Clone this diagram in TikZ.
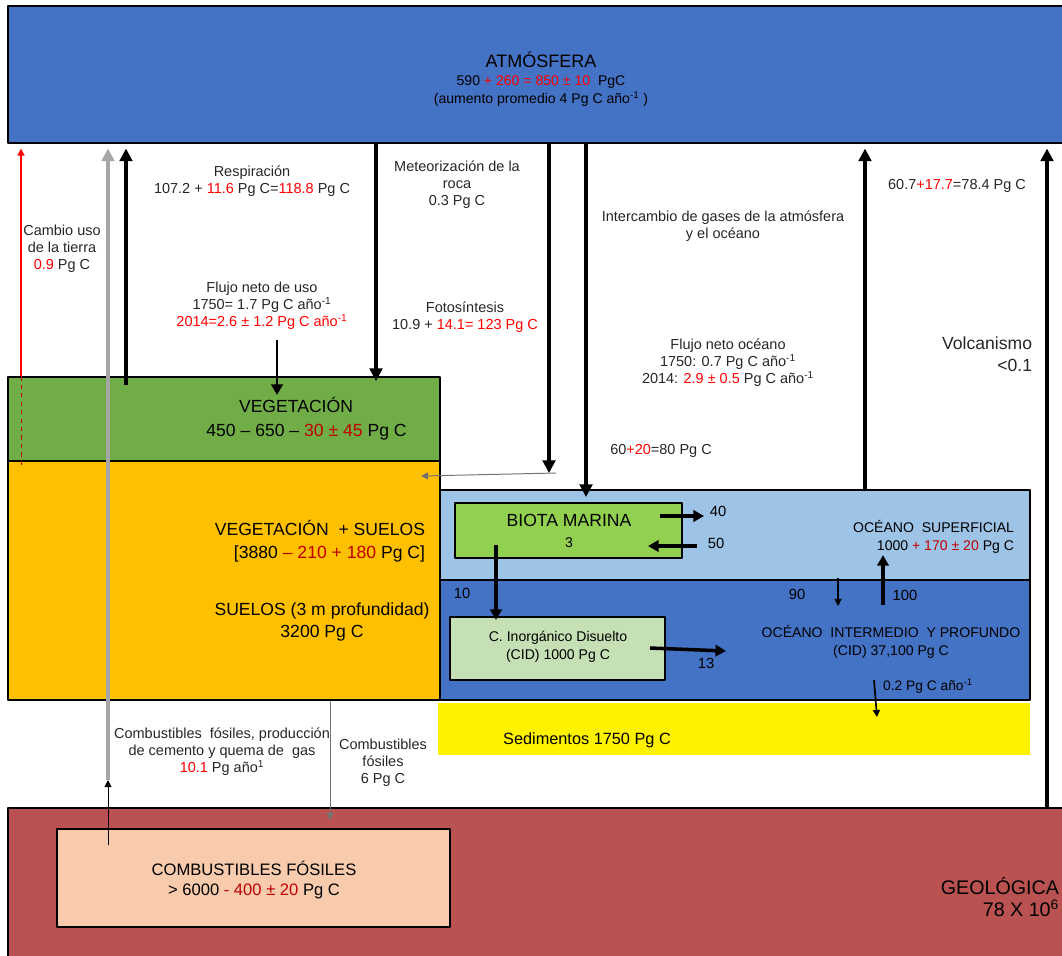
\documentclass[tikz,border=0pt]{standalone}
\usepackage{fontspec}
\setmainfont{Liberation Sans}
\usetikzlibrary{arrows.meta,fit}
\definecolor{atmazul}{RGB}{68,114,196}
\definecolor{vegverde}{RGB}{112,173,71}
\definecolor{suelo}{RGB}{255,192,0}
\definecolor{oceclaro}{RGB}{157,195,230}
\definecolor{biota}{RGB}{146,208,80}
\definecolor{cidverde}{RGB}{197,224,180}
\definecolor{geol}{RGB}{185,82,80}
\definecolor{fosil}{RGB}{248,203,173}
\definecolor{rojo}{RGB}{255,0,0}
\definecolor{rojoosc}{RGB}{192,0,0}
\newcommand{\rd}[1]{\textcolor{rojo}{#1}}
\newcommand{\dr}[1]{\textcolor{rojoosc}{#1}}
\newcommand{\anio}{año\textsuperscript{-1}}
\begin{document}
\begin{tikzpicture}[x=0.025cm,y=-0.025cm,line join=round,
  caja/.style={draw=black,line width=0.9pt,inner sep=0pt},
  lbl/.style={align=center,text=black!85,font=\fontsize{10.3}{12}\selectfont},
  reg/.style={align=center,font=\fontsize{12.5}{16}\selectfont},
  flujo/.style={line width=2.8pt,-{Triangle[length=9pt,width=9pt]}},
  flujom/.style={line width=2.5pt,-{Triangle[length=7.5pt,width=8pt]}},
  flujof/.style={line width=0.7pt,-{Triangle[length=5pt,width=5pt]}},
  alatm/.style={shorten >=3.5pt}]
\useasboundingbox (0,0) rectangle (1062,955);
% Reservorios
\node[caja,fill=atmazul,fit={(8,6)(1068,143)}] (atm) {};
\node[caja,fill=vegverde,fit={(8,377)(440,461)}] (veg) {};
\node[caja,fill=suelo,fit={(8,461)(440,700)}] (soil) {};
\node[caja,fill=oceclaro,fit={(440,490)(1030,580)}] (osup) {};
\node[caja,fill=atmazul,fit={(440,580)(1030,700)}] (odeep) {};
\node[caja,fill=biota,fit={(455,503)(682,558)}] (bio) {};
\node[caja,fill=cidverde,fit={(450,617)(665,680)}] (cid) {};
\node[inner sep=0pt,fill=yellow,fit={(438,703)(1030,755)}] (sed) {};
\node[caja,fill=geol,fit={(8,808)(1068,962)}] (geo) {};
\node[caja,fill=fosil,fit={(57,829)(450,927)}] (fuel) {};
% Posiciones de las flechas
\coordinate (xcu) at (21,0);
\coordinate (xgr) at (108,0);
\coordinate (xre) at (126,0);
\coordinate (xfo) at (376,0);
\coordinate (xme) at (549,0);
\coordinate (xin) at (586,0);
\coordinate (xoc) at (865,0);
\coordinate (xvo) at (1047,0);
\coordinate (xcf) at (330,0);
\coordinate (gpie) at (108,780);
\coordinate (fpie) at (108,845);
\coordinate (rpie) at (126,385);
\coordinate (fnA) at (277,340);
\coordinate (fnB) at (277,395);
\coordinate (fpunta) at (376,381);
\coordinate (mpunta) at (549,473);
\coordinate (gA) at (556,473);
\coordinate (gB) at (421,476);
\coordinate (ipunta) at (586,497);
\coordinate (cpunta) at (330,820);
\coordinate (bA) at (496,545);
\coordinate (bB) at (496,620);
\coordinate (c40A) at (660,516);
\coordinate (c40B) at (704,516);
\coordinate (c50A) at (697,546);
\coordinate (c50B) at (648,546);
\coordinate (c13A) at (650,648);
\coordinate (c13B) at (726,651);
\coordinate (c90A) at (838,578);
\coordinate (c90B) at (838,606);
\coordinate (c100A) at (883,605);
\coordinate (c100B) at (883,555);
\coordinate (csA) at (874,680);
\coordinate (csB) at (877,717);
% Flujos
\draw[flujof,rojo,line width=1pt,alatm] (veg.north -| xcu) -- (atm.south -| xcu);
\draw[rojoosc,dashed,line width=0.5pt] (veg.north -| xcu) -- ([yshift=-3pt]veg.south -| xcu);
\draw[flujo,black!35,alatm] (gpie) -- (atm.south -| xgr);
\draw[flujof] (fpie) -- (gpie);
\draw[flujo,alatm] (rpie) -- (atm.south -| xre);
\draw[flujom,line width=2pt] (fnA) -- (fnB);
\draw[flujo] (atm.south -| xfo) -- (fpunta);
\draw[flujo] (atm.south -| xme) -- (mpunta);
\draw[flujof,black!55] (gA) -- (gB);
\draw[flujo] (atm.south -| xin) -- (ipunta);
\draw[flujo,alatm] (osup.north -| xoc) -- (atm.south -| xoc);
\draw[flujo,alatm] (geo.north -| xvo) -- (atm.south -| xvo);
\draw[flujof,black!55] (soil.south -| xcf) -- (cpunta);
\draw[flujom] (bA) -- (bB);
\draw[flujom] (c40A) -- (c40B);
\draw[flujom] (c50A) -- (c50B);
\draw[flujom] (c13A) -- (c13B);
\draw[flujof,line width=0.8pt] (c90A) -- (c90B);
\draw[flujom,line width=2.8pt] (c100A) -- (c100B);
\draw[flujof,line width=1.2pt] (csA) -- (csB);
% Textos
\node[align=center,font=\fontsize{10}{13}\selectfont] (tatm) at (541,79)
  {{\fontsize{12.8}{14}\selectfont ATMÓSFERA}\\590 \rd{+ 260 = 850 ± 10}\ \ PgC\\(aumento\ promedio 4 Pg C \anio\ )};
\node[lbl] (tresp) at (252,181) {Respiración\\107.2 + \rd{11.6} Pg C=\rd{118.8} Pg C};
\node[lbl] (tcambio) at (62,249) {Cambio uso\\de la tierra\\\rd{0.9} Pg C};
\node[lbl] (tflu) at (262,306) {Flujo\ neto de uso\\1750= 1.7 Pg C \anio\\\rd{2014=2.6 ± 1.2 Pg C \anio}};
\node[lbl] (tmet) at (457,185) {Meteorización\ de la\\roca\\0.3 Pg C};
\node[lbl] (tfoto) at (465,317) {Fotosíntesis\\10.9 + \rd{14.1= 123 Pg C}};
\node[lbl] (tinter) at (723,226) {Intercambio de gases de la atmósfera\\y el océano};
\node[lbl] (t607) at (957,186) {60.7\rd{+17.7}=78.4 Pg C};
\node[lbl] (tflo) at (728,363) {Flujo\ neto\ océano\\1750: 0.7 Pg C \anio\\2014: \rd{2.9 ± 0.5} Pg C \anio};
\node[align=right,anchor=east,font=\fontsize{12.5}{16}\selectfont,text=black!85] (tvolc) at (1037,354) {Volcanismo\\<0.1};
\node[lbl] (t6020) at (661,451) {60\rd{+20}=80 Pg C};
\node[reg] (tveg) at (296,419) {VEGETACIÓN\\[1pt]\hspace*{1.2em}450 – 650 – \dr{30 ± 45} Pg C};
\node[reg,align=right,anchor=east] (tvs) at (430,541) {VEGETACIÓN\ \ + SUELOS\\{[}3880 \dr{– 210 + 180} Pg C{]}};
\node[reg] (tsue) at (322,622) {SUELOS (3 m profundidad)\\3200 Pg C};
\node[align=center,font=\fontsize{12.5}{15}\selectfont] (tbio) at (569,531) {BIOTA MARINA\\{\fontsize{10}{12}\selectfont 3}};
\node[align=right,anchor=east,font=\fontsize{10}{13}\selectfont] (tosup) at (1019,537) {OCÉANO\ \ SUPERFICIAL\\1000 \dr{+ 170 ± 20} Pg C};
\node[align=center,font=\fontsize{10}{13}\selectfont] (tcid) at (558,647) {C. Inorgánico Disuelto\\(CID) 1000 Pg C};
\node[align=center,font=\fontsize{10}{13}\selectfont] (todeep) at (891,642) {OCÉANO\ \ INTERMEDIO\ \ Y PROFUNDO\\(CID) 37,100 Pg C};
\node[font=\fontsize{10.5}{12}\selectfont] (t10) at (462,593) {10};
\node[font=\fontsize{10.5}{12}\selectfont] (t40) at (718,511) {40};
\node[font=\fontsize{10.5}{12}\selectfont] (t50) at (716,543) {50};
\node[font=\fontsize{10.5}{12}\selectfont] (t13) at (706,663) {13};
\node[font=\fontsize{10.5}{12}\selectfont] (t90) at (797,594) {90};
\node[font=\fontsize{10.5}{12}\selectfont] (t100) at (905,595) {100};
\node[font=\fontsize{9.8}{12}\selectfont] (t02) at (928,686) {0.2 Pg C \anio};
\node[font=\fontsize{11.6}{13}\selectfont] (tsed) at (587,740) {Sedimentos 1750 Pg C};
\node[lbl] (tcomb) at (222,752) {Combustibles\ \ fósiles, producción\\de cemento y quema de\ \ gas\\\rd{10.1} Pg año\textsuperscript{1}};
\node[lbl] (tcf6) at (383,763) {Combustibles\\fósiles\\6 Pg C};
\node[align=center,font=\fontsize{11.8}{14}\selectfont] (tfuel) at (254,880) {COMBUSTIBLES FÓSILES\\> 6000 \dr{- 400 ± 20} Pg C};
\node[align=right,anchor=east,font=\fontsize{14}{16}\selectfont] (tgeo) at (1064,897) {GEOLÓGICA\\78 X 10\textsuperscript{6}};
\end{tikzpicture}
\end{document}
